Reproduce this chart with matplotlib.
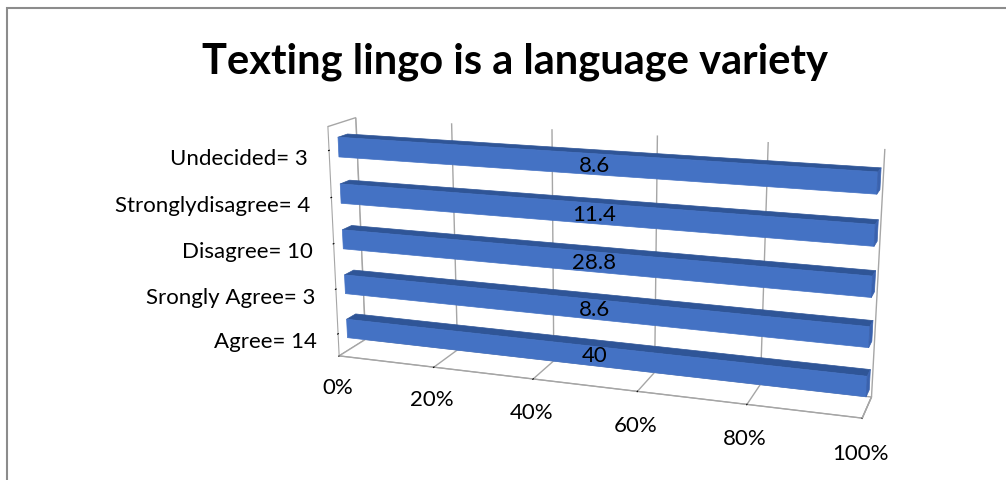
"""Horizontal 3-D percent bar chart of the texting-lingo survey item."""

import matplotlib

matplotlib.use("Agg")
import matplotlib.pyplot as plt
from matplotlib.patches import Rectangle
from mpl_toolkits.mplot3d.art3d import Poly3DCollection
import numpy as np

plt.rcParams["font.family"] = ["Lato", "DejaVu Sans"]

# responses, bottom to top as they sit on the chart
categories = ["Agree= 14", "Srongly Agree= 3", "Disagree= 10", "Stronglydisagree= 4", "Undecided= 3"]
percents = [40, 8.6, 28.8, 11.4, 8.6]
value_ticks = [0, 20, 40, 60, 80, 100]
value_tick_labels = ["0%", "20%", "40%", "60%", "80%", "100%"]

TITLE = "Texting lingo is a language variety"
FRONT = "#4472C4"
TOP = "#2F5597"
END = "#3A62AE"
GRID = "#A6A6A6"


def bar_faces(x0, x1, y0, y1, z0, z1):
    """Front, top and end faces of one box."""
    front = [(x0, y0, z0), (x1, y0, z0), (x1, y0, z1), (x0, y0, z1)]
    top = [(x0, y0, z1), (x1, y0, z1), (x1, y1, z1), (x0, y1, z1)]
    end = [(x1, y0, z0), (x1, y1, z0), (x1, y1, z1), (x1, y0, z1)]
    return [front, top, end]


fig = plt.figure(figsize=(10.06, 4.8), dpi=100)
# chart-area frame; only its top and left edges fall inside the canvas
fig.patches.append(
    Rectangle((7, -300), 1200, 772, transform=None, fill=False, edgecolor="#8C8C8C", lw=1.5)
)
fig.text(0.512, 0.872, TITLE, ha="center", va="center", fontsize=30, fontweight="bold")

ax = fig.add_axes([0.184, -0.079, 0.8, 1.05], projection="3d")
ax.set_proj_type("persp", focal_length=0.52)
ax.view_init(elev=15, azim=-71)
ax.set_box_aspect((4.0, 0.43, 1.78), zoom=1.174)

n = len(categories)

# single-series 100% stacked bars: every bar fills its own total
totals = np.array(percents, dtype=float)
shares = np.array(percents, dtype=float) / totals
for i, share in enumerate(shares):
    faces = bar_faces(0, share, 0.33, 0.67, i + 0.29, i + 0.71)
    coll = Poly3DCollection(faces, facecolors=[FRONT, TOP, END], edgecolors=[FRONT, TOP, END], linewidths=0.5)
    coll.set_clip_on(False)
    ax.add_collection3d(coll, autolim=False)
    ax.text(0.5 * share, 0.5, i + 0.42, f"{percents[i]:g}", ha="center", va="center",
            fontsize=16, zorder=100, clip_on=False)

ax.set_xlim(0, 1)
ax.set_ylim(0, 1)
ax.set_zlim(0, n)

for axis in (ax.xaxis, ax.yaxis, ax.zaxis):
    axis.set_pane_color((1, 1, 1, 1))
    axis.pane.set_edgecolor(GRID)
    axis.line.set_color(GRID)
    axis._axinfo["grid"].update(color=GRID, linewidth=1.0)
    axis._axinfo["tick"].update(color=GRID)
ax.yaxis.pane.set_edgecolor((1, 1, 1, 0))
ax.zaxis._axinfo["grid"].update(linewidth=0)

ax.set_xticks(np.array(value_ticks) / 100)
ax.set_xticklabels(value_tick_labels, fontsize=16)
ax.set_yticks([])
ax.set_zticks(np.arange(n) + 0.5)
ax.set_zticklabels(categories, fontsize=16)
ax.zaxis.set_ticks_position("lower")
for lab in ax.get_zticklabels():
    lab.set_ha("right")
ax.tick_params(axis="x", pad=10)
ax.tick_params(axis="z", pad=0)

fig.savefig("out.png", dpi=100)
